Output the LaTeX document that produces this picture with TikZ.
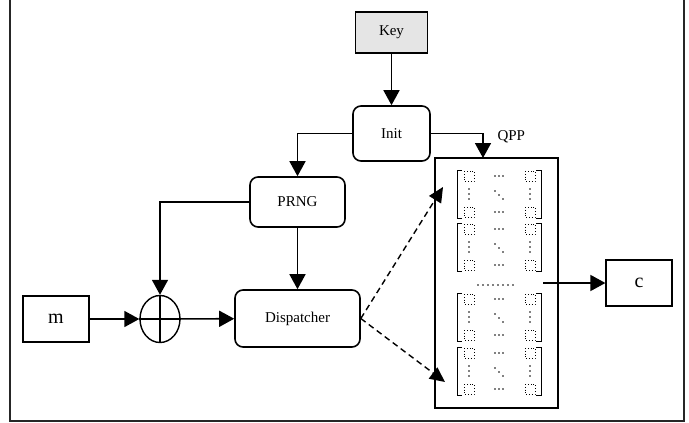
\documentclass[tikz,border=0pt]{standalone}
\usepackage{fontspec}
\setmainfont{Liberation Serif}
\usetikzlibrary{arrows.meta,shapes.geometric}
\begin{document}
\begin{tikzpicture}[x=1pt,y=-1pt,
  every node/.style={font=\fontsize{15}{17}\selectfont},
  blk/.style={draw,line width=1.6pt,rounded corners=8pt,inner sep=0pt},
  sqbox/.style={draw,line width=1.2pt,inner sep=0pt},
  arr/.style={line width=1.6pt,-{Triangle[length=15pt,width=16pt]}},
  darr/.style={line width=1.4pt,dash pattern=on 6pt off 4pt,-{Triangle[length=15pt,width=14pt]}},
  dsq/.style={draw,dotted,line width=0.8pt},
  brk/.style={draw,line width=0.9pt}
]
\useasboundingbox (0,0) rectangle (689,423);
% outer frame
\draw[line width=2pt,black!85] (10,0) -- (10,421) -- (684,421) -- (684,0);

% nodes
\node[sqbox,fill=gray!20,minimum width=72pt,minimum height=41pt] (key) at (391.5,32.5) {Key};
\node[blk,minimum width=77pt,minimum height=55pt] (init) at (391.5,133.5) {Init};
\node[blk,minimum width=95pt,minimum height=50pt] (prng) at (297.5,202) {PRNG};
\node[blk,minimum width=125pt,minimum height=57pt] (disp) at (297.5,318.5) {Dispatcher};
\node[sqbox,minimum width=66pt,minimum height=46pt,font=\fontsize{20}{22}\selectfont] (m) at (56,319) {m};
\node[sqbox,minimum width=66pt,minimum height=46pt,font=\fontsize{20}{22}\selectfont] (c) at (639,283) {c};
\node[draw,ellipse,line width=1.4pt,minimum width=40pt,minimum height=47pt,inner sep=0pt] (xor) at (160,319) {};
\draw[line width=1.4pt] (xor.north) -- (xor.south) (xor.west) -- (xor.east);
\node[draw,line width=1.8pt,minimum width=123pt,minimum height=250pt,inner sep=0pt] (qpp) at (496.5,283) {};
\node[anchor=west] (qpplabel) at (494,137) {QPP};

% coordinates
\coordinate (qin) at (483,158);
\coordinate (ua) at (443,187);
\coordinate (la) at (445,382);
\coordinate (cout) at (543,283);

% matrices
\foreach \T in {170,223,293,347} {
  \draw[brk] (462,\T) -- (457,\T) -- (457,\T+48) -- (462,\T+48);
  \draw[brk] (536,\T) -- (541,\T) -- (541,\T+48) -- (536,\T+48);
  \draw[dsq] (464,\T+1) rectangle (474,\T+11);
  \draw[dsq] (525,\T+1) rectangle (535,\T+11);
  \draw[dsq] (464,\T+37) rectangle (474,\T+47);
  \draw[dsq] (525,\T+37) rectangle (535,\T+47);
  \foreach \dx in {-4,0,4} {
    \fill (499+\dx,\T+6) circle (0.8pt);
    \fill (499+\dx,\T+42) circle (0.8pt);
  }
  \foreach \dy in {-5,0,5} {
    \fill (469,\T+24+\dy) circle (0.8pt);
    \fill (530,\T+24+\dy) circle (0.8pt);
  }
  \fill (495,\T+21) circle (0.8pt);
  \fill (499,\T+25) circle (0.8pt);
  \fill (503,\T+29) circle (0.8pt);
}
\foreach \x in {478,483,...,515} { \fill (\x,285) circle (0.8pt); }

% connectors
\draw[arr] (key) -- (init);
\draw[arr] (init.west) -| (prng.north);
\draw[arr] (init.east) -| (qin);
\draw[arr] (prng.west) -| (xor.north);
\draw[arr] (prng) -- (disp);
\draw[arr] (m) -- (xor);
\draw[arr] (xor) -- (disp);
\draw[darr] (disp.east) -- (ua);
\draw[darr] (disp.east) -- (la);
\draw[arr] (cout) -- (c);
\end{tikzpicture}
\end{document}
